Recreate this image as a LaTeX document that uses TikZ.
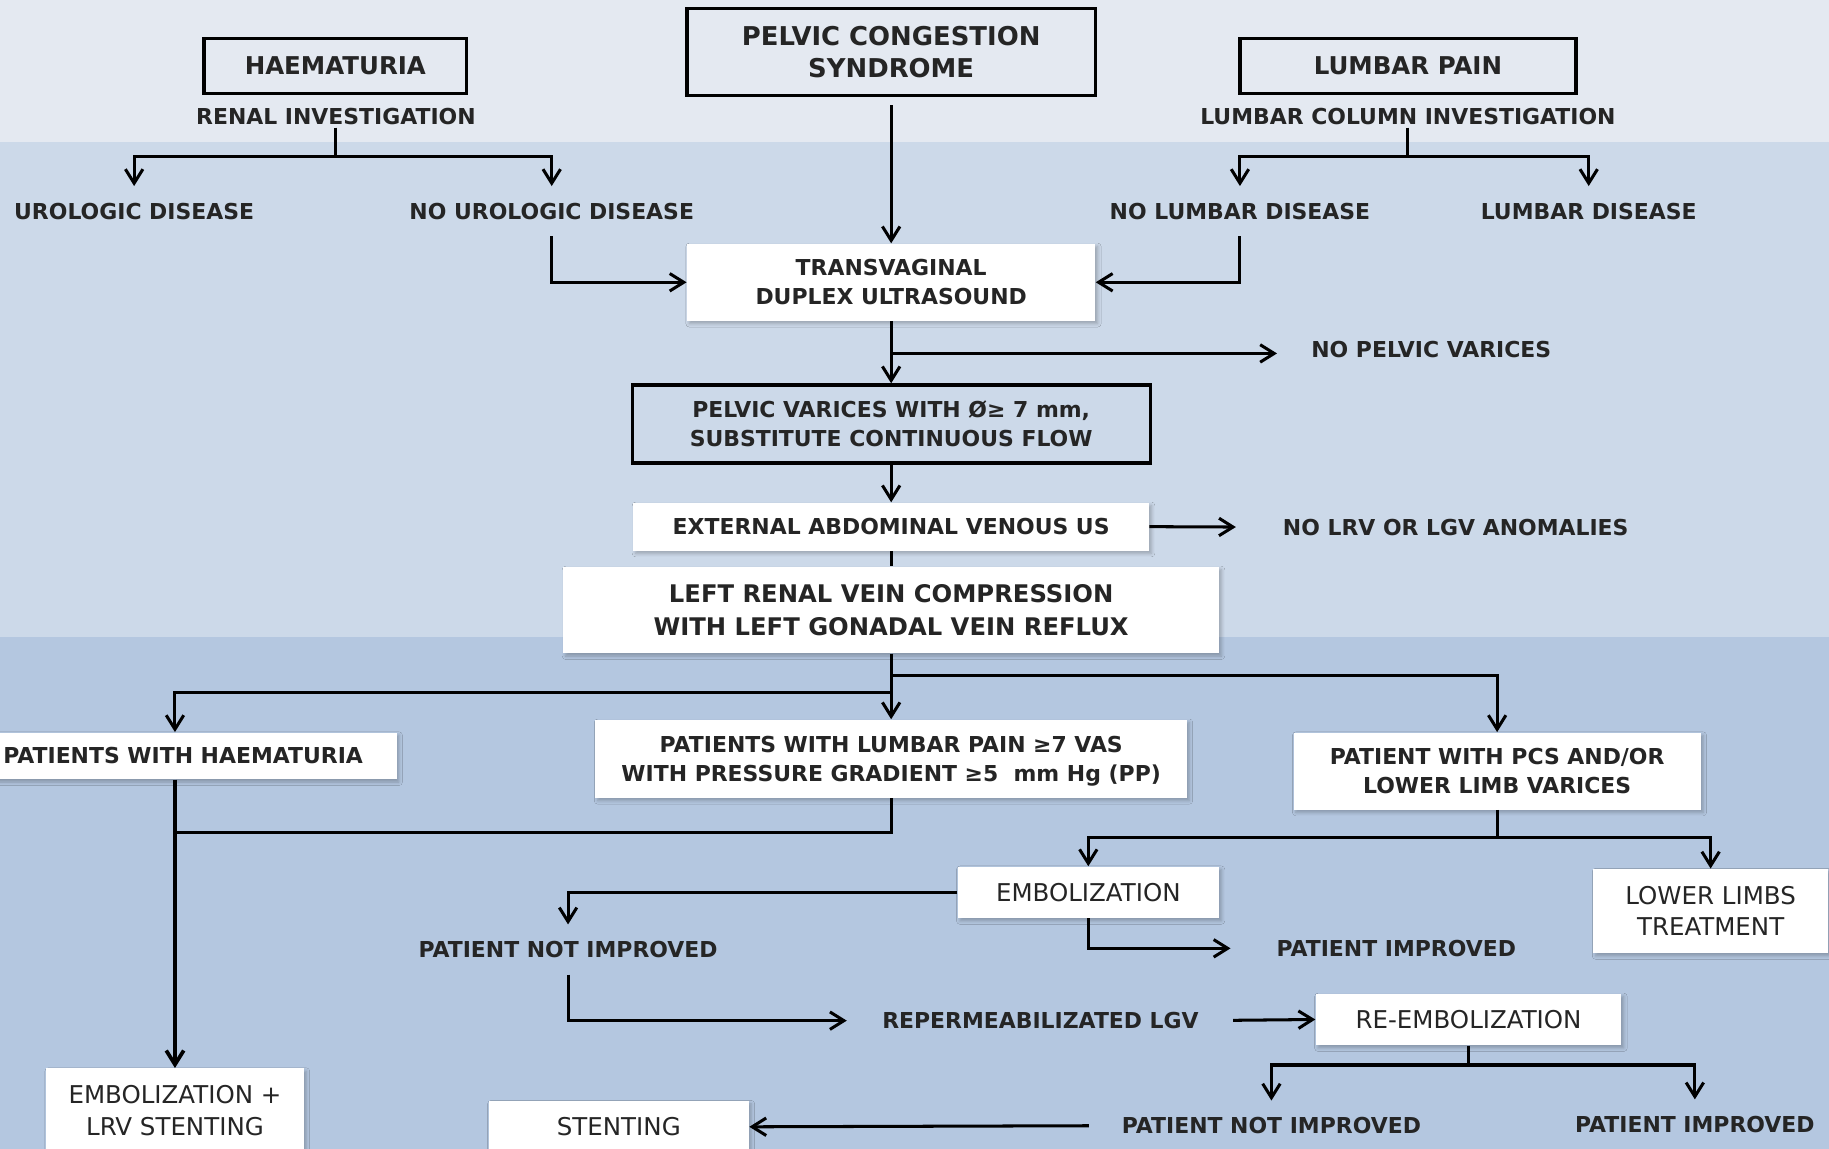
\documentclass[tikz,border=0pt]{standalone}
\usepackage{fontspec}
\setmainfont{DejaVu Sans}
\usetikzlibrary{arrows.meta,shadows.blur}
\definecolor{bgtop}{HTML}{E4E9F1}
\definecolor{bgmid}{HTML}{CCD9E9}
\definecolor{bgbot}{HTML}{B4C7E0}
\definecolor{txt}{HTML}{252525}
\newcommand\lblf{\bfseries\fontsize{9.4}{12.5}\selectfont}
\newcommand\ttlf{\bfseries\fontsize{10.5}{14}\selectfont}
\newcommand\pcsf{\bfseries\fontsize{11.1}{14}\selectfont}
\newcommand\lrvf{\bfseries\fontsize{10.4}{14}\selectfont}
\newcommand\regf{\fontsize{10.5}{13.5}\selectfont}
\tikzset{
  line/.style={line width=1.3pt, draw=black},
  arr/.style={line, -{Straight Barb[length=6pt,width=7.5pt]}},
  obox/.style={draw=black, line width=1.4pt, text=txt, align=center, inner sep=0pt},
  wbox/.style={fill=white, text=txt, align=center, inner sep=0pt,
    blur shadow={shadow xshift=1pt, shadow yshift=-1.2pt, shadow blur radius=1.5pt, shadow opacity=25}},
  lbl/.style={text=txt, inner xsep=0pt, inner ysep=7pt, font=\lblf},
  boxsz/.style 2 args={minimum width=#1*0.5pt, minimum height=#2*0.5pt},
}
\begin{document}
\begin{tikzpicture}[x=0.5pt,y=-0.5pt]
\useasboundingbox (0,0) rectangle (1568,985);
\clip (0,0) rectangle (1568,985);
% background bands
\fill[bgtop] (0,0) rectangle (1568,122);
\fill[bgmid] (0,122) rectangle (1568,546);
\fill[bgbot] (0,546) rectangle (1568,985);

% top boxes
\node[obox, boxsz={225}{47}, font=\ttlf] (hae) at (287.5,56.5) {HAEMATURIA};
\node[obox, boxsz={350}{75}, font=\pcsf] (pcs) at (764,44.5) {PELVIC CONGESTION\\SYNDROME};
\node[obox, boxsz={288}{47}, font=\ttlf] (lum) at (1207,56.5) {LUMBAR PAIN};
\node[lbl, inner ysep=1pt] (rinv) at (288,100) {RENAL INVESTIGATION};
\node[lbl, inner ysep=1pt] (linv) at (1207,100) {LUMBAR COLUMN INVESTIGATION};

\node[lbl] (uro) at (115,181) {UROLOGIC DISEASE};
\node[lbl] (nouro) at (473,181) {NO UROLOGIC DISEASE};
\node[lbl] (nolum) at (1063,181) {NO LUMBAR DISEASE};
\node[lbl] (lumd) at (1362,181) {LUMBAR DISEASE};

\coordinate (j1) at (288,134);
\coordinate (j2) at (1207,134);
\draw[line] (rinv.south) -- (j1);
\draw[arr] (j1) -| (uro.north);
\draw[arr] (j1) -| (nouro.north);
\draw[line] (linv.south) -- (j2);
\draw[arr] (j2) -| (nolum.north);
\draw[arr] (j2) -| (lumd.north);

% transvaginal
\node[wbox, boxsz={350}{66}, font=\lblf] (tv) at (764,242) {TRANSVAGINAL\\DUPLEX ULTRASOUND};
\draw[arr, shorten <=3.5pt] (pcs.south) -- (tv.north);
\draw[arr] (nouro.south) |- (tv.west);
\draw[arr] (nolum.south) |- (tv.east);

% pelvic varices
\node[lbl] (nopv) at (1227,300) {NO PELVIC VARICES};
\node[obox, boxsz={444}{67}, font=\lblf] (pv) at (764,363.5) {PELVIC VARICES WITH Ø≥ 7 mm,\\SUBSTITUTE CONTINUOUS FLOW};
\coordinate (j3) at (764,303);
\draw[arr] (tv.south) -- (pv.north);
\draw[arr, shorten >=14.5pt] (j3) -- (j3 -| nopv.west);

% external US
\node[wbox, boxsz={442}{41}, font=\lblf] (ext) at (764,451.5) {EXTERNAL ABDOMINAL VENOUS US};
\node[lbl] (nolrv) at (1248,452) {NO LRV OR LGV ANOMALIES};
\draw[arr] (pv.south) -- (ext.north);
\draw[arr, shorten >=20pt] (ext.east) -- (nolrv.west);

% LRV compression
\node[wbox, boxsz={562}{74}, font=\lrvf] (lrv) at (764,523) {LEFT RENAL VEIN COMPRESSION\\WITH LEFT GONADAL VEIN REFLUX};
\draw[line] (ext.south) -- (lrv.north);

% patient groups
\node[wbox, boxsz={380}{40}, font=\lblf] (phae) at (150,648) {\hspace*{7pt}PATIENTS WITH HAEMATURIA};
\node[wbox, boxsz={507}{67}, font=\lblf] (plum) at (764,650.5) {\rule{0pt}{9pt}PATIENTS WITH LUMBAR PAIN ≥7 VAS\\WITH PRESSURE GRADIENT ≥5\ \ mm Hg (PP)};
\node[wbox, boxsz={349}{66}, font=\lblf] (ppcs) at (1283.5,661) {PATIENT WITH PCS AND/OR\\LOWER LIMB VARICES};
\coordinate (j4) at (764,594);
\coordinate (j5) at (764,579);
\draw[arr] (lrv.south) -- (plum.north);
\draw[arr] (j4) -| (phae.north);
\draw[arr] (j5) -| (ppcs.north);

% haematuria branch
\node[wbox, boxsz={221}{72}, font=\regf] (embl) at (150,952) {EMBOLIZATION +\\LRV STENTING};
\coordinate (j6) at (150,714);
\draw[line] (plum.south) |- (j6);
\draw[arr, line width=1.6pt] (phae.south) -- (embl.north);

% PCS branch
\node[wbox, boxsz={224}{44}, font=\regf] (emb) at (933,765) {EMBOLIZATION};
\node[wbox, boxsz={201}{72}, font=\regf] (llt) at (1466.5,781) {LOWER LIMBS\\TREATMENT};
\coordinate (j7) at (1283.5,718);
\draw[line] (ppcs.south) -- (j7);
\draw[arr] (j7) -| (emb.north);
\draw[arr] (j7) -| (llt.north);

\node[lbl] (pni1) at (487,814) {PATIENT NOT IMPROVED};
\node[lbl] (pi1) at (1197,813) {PATIENT IMPROVED};
\draw[arr] (emb.west) -| (pni1.north);
\draw[arr, shorten >=19.5pt] (emb.south) |- (pi1.west);

\node[lbl] (rlgv) at (892,875) {REPERMEABILIZATED LGV};
\draw[arr, shorten >=15pt] (pni1.south) |- (rlgv.west);
\node[wbox, boxsz={262}{44}, font=\regf] (remb) at (1259,874) {RE-EMBOLIZATION};
\draw[arr, shorten <=14.5pt] (rlgv.east) -- (remb.west);

\coordinate (j8) at (1259,913);
\node[lbl] (pni2) at (1090,965) {PATIENT NOT IMPROVED};
\node[lbl] (pi2) at (1453,964) {PATIENT IMPROVED};
\draw[line] (remb.south) -- (j8);
\draw[arr] (j8) -| (pni2.north);
\draw[arr] (j8) -| (pi2.north);

\node[wbox, boxsz={223}{44}, font=\regf] (sten) at (530.5,966) {STENTING};
\draw[arr, shorten <=14pt] (pni2.west) -- (sten.east);
\end{tikzpicture}
\end{document}
